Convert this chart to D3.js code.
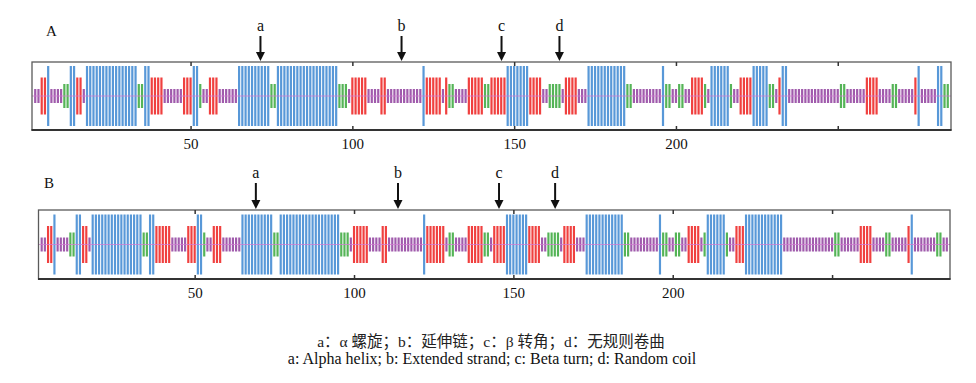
<!DOCTYPE html>
<html><head><meta charset="utf-8">
<script src="https://cdn.jsdelivr.net/npm/d3@7"></script>
<style>body{margin:0;background:#fff}</style>
</head><body><svg id="chart" width="976" height="383"></svg>
<script>
// ---- data ----
// secondary-structure runs: [state, first residue, last residue]
// h = alpha helix, e = extended strand, t = beta turn, c = random coil
const segmentsA = [
 ["c",2,3],["e",4,5],["h",6,6],["c",7,10],["t",11,12],["h",13,14],["e",15,16],["c",17,17],
 ["h",18,33],["t",34,35],["h",36,37],["e",38,41],["c",42,47],["e",48,50],["h",51,52],["t",53,53],
 ["c",54,55],["e",56,58],["c",59,64],["h",65,74],["t",75,76],["h",77,95],["t",96,98],["c",99,99],
 ["e",100,104],["c",105,108],["e",109,110],["c",111,121],["h",122,122],["e",123,127],["c",128,128],
 ["e",129,129],["t",130,131],["c",132,135],["e",136,140],["t",141,142],["e",143,147],["h",148,154],
 ["e",155,158],["c",159,160],["t",161,164],["c",165,165],["e",166,169],["c",170,172],["h",173,184],
 ["t",185,186],["c",187,195],["h",196,196],["t",197,198],["c",199,200],["t",201,202],["c",203,204],
 ["e",205,208],["t",209,209],["c",210,210],["h",211,216],["t",217,217],["c",218,219],["e",220,223],
 ["h",224,228],["t",229,230],["c",231,231],["e",232,232],["h",233,234],["c",235,250],["t",251,252],
 ["c",253,258],["e",259,262],["c",263,266],["t",267,268],["c",269,273],["e",274,274],["h",275,275],
 ["c",276,280],["h",281,282],["t",283,284]
];
const lengthA = 284;

const segmentsB = [
 ["c",2,3],["e",4,5],["h",6,6],["c",7,10],["t",11,12],["h",13,14],["e",15,16],["c",17,17],
 ["h",18,33],["t",34,35],["h",36,37],["e",38,42],["c",43,47],["e",48,50],["h",51,52],["t",53,53],
 ["c",54,55],["e",56,58],["c",59,64],["h",65,74],["t",75,76],["h",77,95],["t",96,98],["c",99,99],
 ["e",100,104],["c",105,108],["e",109,110],["c",111,121],["h",122,122],["e",123,128],["c",129,129],
 ["t",130,131],["c",132,135],["e",136,140],["t",141,142],["c",143,143],["e",144,147],["h",148,154],
 ["e",155,158],["c",159,160],["t",161,164],["c",165,165],["e",166,169],["c",170,172],["h",173,184],
 ["t",185,186],["c",187,195],["h",196,196],["t",197,198],["c",199,200],["t",201,202],["c",203,204],
 ["e",205,208],["c",209,209],["t",210,210],["h",211,216],["t",217,217],["c",218,219],["e",220,222],
 ["h",223,234],["c",235,250],["t",251,252],["c",253,258],["e",259,262],["c",263,266],["t",267,268],
 ["c",269,273],["e",274,274],["h",275,275],["c",276,282],["t",283,284],["c",285,286]
];
const lengthB = 286;

const tickValues = [50, 100, 150, 200, 250];
const tickLabels = ["50", "100", "150", "200", ""];

const arrowLabels = ["a", "b", "c", "d"];
const arrowResA = [71.6, 115.2, 146.1, 164.0];
const arrowResB = [69.2, 113.8, 145.5, 163.1];

const captionZh = "a：α 螺旋；b：延伸链；c：β 转角；d：无规则卷曲";
const captionEn = "a: Alpha helix; b: Extended strand; c: Beta turn; d: Random coil";

// ---- styles ----
const stateColor = {h:"#5898d8", e:"#f0403f", t:"#55b457", c:"#a05bac"};
const stateHalf = {h:30, e:18.5, t:12, c:7};
const serif = "'Liberation Serif','Times New Roman',serif";

const svg = d3.select("#chart");

function expand(segs){
  const out = [];
  segs.forEach(([s,a,b]) => { for(let r=a;r<=b;r++) out.push({res:r, state:s}); });
  return out;
}

function drawPanel(cfg){
  const g = svg.append("g");
  const x = d3.scaleLinear().domain([1, cfg.length + 1]).range([cfg.left, cfg.right]);
  const step = x(2) - x(1);
  const cy = (cfg.top + cfg.bottom) / 2;
  const residues = expand(cfg.segments);

  // bars
  g.selectAll("rect.bar").data(residues).enter().append("rect")
    .attr("class","bar")
    .attr("x", d => x(d.res) - step*0.34)
    .attr("width", step*0.68)
    .attr("y", d => cy - stateHalf[d.state])
    .attr("height", d => 2*stateHalf[d.state])
    .attr("fill", d => stateColor[d.state]);

  // centre line
  g.append("line").attr("x1", x(1)).attr("x2", x(cfg.length+1))
    .attr("y1", cy).attr("y2", cy)
    .attr("stroke", "#d27ad2").attr("stroke-width", 1).attr("opacity", 0.75);

  // frame
  g.append("rect").attr("x", x(1)).attr("y", cfg.top)
    .attr("width", x(cfg.length+1) - x(1)).attr("height", cfg.bottom - cfg.top)
    .attr("fill","none").attr("stroke","#5a5a5a").attr("stroke-width",1.3);
  g.append("line").attr("x1", x(1)-0.5).attr("x2", x(cfg.length+1)+0.5)
    .attr("y1", cfg.bottom).attr("y2", cfg.bottom)
    .attr("stroke","#333").attr("stroke-width",2.2);

  // axes
  const axB = d3.axisBottom(x).tickValues(tickValues).tickSize(-4).tickPadding(8)
    .tickFormat((d,i) => tickLabels[i]);
  const gb = g.append("g").attr("transform", `translate(0,${cfg.bottom})`).call(axB);
  gb.select(".domain").remove();
  gb.selectAll(".tick line").attr("stroke","#333").attr("stroke-width",1.5);
  gb.selectAll(".tick text").attr("font-family", serif).attr("font-size", 15).attr("fill","#111");

  const axT = d3.axisTop(x).tickValues(tickValues).tickSize(-4).tickFormat("");
  const gt = g.append("g").attr("transform", `translate(0,${cfg.top})`).call(axT);
  gt.select(".domain").remove();
  gt.selectAll(".tick line").attr("stroke","#333").attr("stroke-width",1.5);

  // panel label
  g.append("text").attr("x", cfg.labelX).attr("y", cfg.labelY).text(cfg.label)
    .attr("font-family", serif).attr("font-size", 15).attr("fill","#111");

  // arrows
  const arrows = arrowLabels.map((l,i) => ({label:l, res:cfg.arrowRes[i]}));
  const ag = g.selectAll("g.arrow").data(arrows).enter().append("g").attr("class","arrow");
  ag.append("text").attr("x", d => x(d.res)).attr("y", cfg.arrowTextY)
    .attr("text-anchor","middle").text(d => d.label)
    .attr("font-family", serif).attr("font-size", 16).attr("fill","#111");
  ag.append("line").attr("x1", d => x(d.res)).attr("x2", d => x(d.res))
    .attr("y1", cfg.arrowTextY + 5).attr("y2", cfg.top - 8)
    .attr("stroke","#111").attr("stroke-width",2);
  ag.append("path")
    .attr("d", d => `M${x(d.res)-4.5},${cfg.top-10} L${x(d.res)+4.5},${cfg.top-10} L${x(d.res)},${cfg.top-1} Z`)
    .attr("fill","#111");
}

drawPanel({segments:segmentsA, length:lengthA, left:32, right:951, top:62, bottom:130,
  label:"A", labelX:46, labelY:36, arrowRes:arrowResA, arrowTextY:31});
drawPanel({segments:segmentsB, length:lengthB, left:38.5, right:950, top:210, bottom:279,
  label:"B", labelX:44, labelY:188, arrowRes:arrowResB, arrowTextY:178});

// caption
svg.append("text").attr("x", 491).attr("y", 347).attr("text-anchor","middle")
  .attr("font-family", serif + ",'Noto Sans CJK SC'").attr("font-size", 15.5).attr("fill","#222")
  .text(captionZh);
svg.append("text").attr("x", 492).attr("y", 364).attr("text-anchor","middle")
  .attr("font-family", serif).attr("font-size", 16).attr("fill","#111")
  .text(captionEn);
</script>
</body></html>
